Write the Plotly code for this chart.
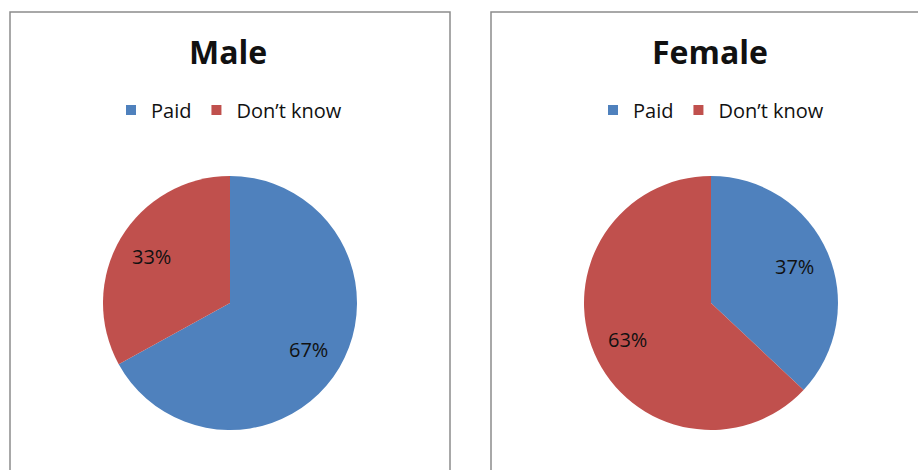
import math
import plotly.graph_objects as go

W, H = 918, 470

labels = ["Paid", "Don\u2019t know"]
male_values = [67, 33]
female_values = [37, 63]
panel_titles = ["Male", "Female"]
colors = ["#4F81BD", "#C0504D"]

FONT = "Open Sans"
TEXT = "#111111"


def px_x(v):
    return v / W


def px_y(v):
    return 1 - v / H


fig = go.Figure()

# pies: (values, legend id, pie box in pixels: left, right, top, bottom)
pies = [
    (male_values, "legend", (103, 357, 176, 430)),
    (female_values, "legend2", (584, 838, 176, 430)),
]
for vals, leg, (x0, x1, yt, yb) in pies:
    fig.add_trace(go.Pie(
        labels=labels,
        values=vals,
        sort=False,
        direction="clockwise",
        rotation=0,
        marker=dict(colors=colors, line=dict(width=0)),
        textinfo="none",
        domain=dict(x=[px_x(x0), px_x(x1)], y=[px_y(yb), px_y(yt)]),
        showlegend=False,
        hoverinfo="label+percent",
    ))

    # percentage labels placed along each slice's bisector
    cx, cy = (x0 + x1) / 2, (yt + yb) / 2
    r = (x1 - x0) / 2
    total = sum(vals)
    start = 0.0
    for v in vals:
        mid = (start + v / 2) / total * 2 * math.pi
        start += v
        lx = cx + 0.72 * r * math.sin(mid)
        ly = cy - 0.72 * r * math.cos(mid)
        fig.add_annotation(text=f"{round(100 * v / total)}%",
                           x=px_x(lx), y=px_y(ly), xref="paper", yref="paper",
                           showarrow=False, xanchor="center", yanchor="middle",
                           font=dict(family=FONT, size=20, color=TEXT))

    # legend entries for this panel
    for lab, col in zip(labels, colors):
        fig.add_trace(go.Scatter(
            x=[None], y=[None], mode="markers", name=lab,
            marker=dict(symbol="square", size=10, color=col),
            legend=leg, showlegend=True, hoverinfo="skip",
        ))

# panel frames
for x0, x1 in [(10, 450), (491, 930)]:
    fig.add_shape(type="rect", xref="paper", yref="paper",
                  x0=px_x(x0), x1=px_x(x1), y0=-0.05, y1=px_y(12),
                  line=dict(color="#8c8c8c", width=1.5), fillcolor="rgba(0,0,0,0)",
                  layer="below")

# panel titles
for title, cx in zip(panel_titles, [228, 710]):
    fig.add_annotation(text=f"<b>{title}</b>", x=px_x(cx), y=px_y(52),
                       xref="paper", yref="paper", showarrow=False,
                       xanchor="center", yanchor="middle",
                       font=dict(family=FONT, size=32, color=TEXT))

legend_style = dict(orientation="h", xanchor="center", yanchor="middle",
                    font=dict(family=FONT, size=20, color=TEXT),
                    bgcolor="rgba(0,0,0,0)", itemclick=False, itemdoubleclick=False,
                    itemwidth=30)

fig.update_layout(
    width=W, height=H,
    margin=dict(l=0, r=0, t=0, b=0),
    paper_bgcolor="white",
    plot_bgcolor="white",
    xaxis=dict(visible=False),
    yaxis=dict(visible=False),
    legend=dict(x=px_x(229), y=px_y(110), **legend_style),
    legend2=dict(x=px_x(711), y=px_y(110), **legend_style),
)

fig.write_html("out.html")
